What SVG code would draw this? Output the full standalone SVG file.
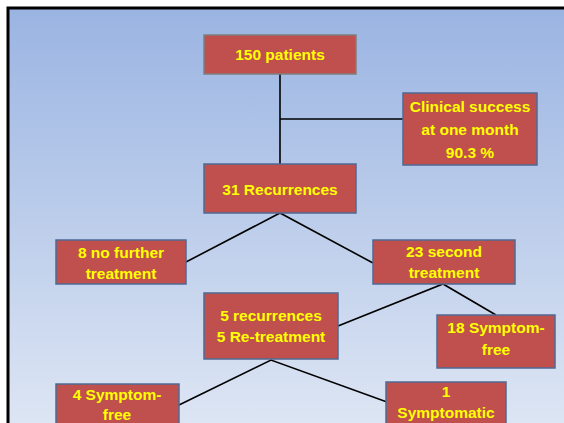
<svg xmlns="http://www.w3.org/2000/svg" width="564" height="423" viewBox="0 0 564 423">
<defs>
<linearGradient id="bg" x1="0" y1="0" x2="0" y2="1">
<stop offset="0" stop-color="#9ab4e2"/>
<stop offset="1" stop-color="#dfe7f4"/>
</linearGradient>
<style>
.n{fill:#c0504d;stroke:#4f6a94;stroke-width:1.5}
.g{stroke:#7f7f7f}
.t{font-family:"Liberation Sans",Arial,sans-serif;font-weight:bold;font-size:15.5px;fill:#ffff00;text-anchor:middle}
.c{stroke:#000;stroke-width:1.6;fill:none}
</style>
</defs>
<rect x="0" y="0" width="564" height="423" fill="#fff"/>
<rect x="8" y="8" width="570" height="430" fill="url(#bg)" stroke="#000" stroke-width="3"/>
<g id="connectors">
<line class="c" x1="280" y1="74" x2="280" y2="164"/>
<line class="c" x1="280" y1="119" x2="403" y2="119"/>
<polyline class="c" points="186,262 280,213 373,263"/>
<polyline class="c" points="338,326 443,284 496,315"/>
<polyline class="c" points="179,405 271,360 387,402"/>
</g>
<g id="n150">
<rect class="n g" x="204" y="35" width="152" height="39"/>
<text class="t" x="280" y="60">150 patients</text>
</g>
<g id="nclin">
<rect class="n" x="403" y="93" width="134" height="72"/>
<text class="t" x="470" y="112">Clinical success</text>
<text class="t" x="470" y="135">at one month</text>
<text class="t" x="470" y="158">90.3 %</text>
</g>
<g id="nrec">
<rect class="n" x="204" y="164" width="152" height="49"/>
<text class="t" x="280" y="195">31 Recurrences</text>
</g>
<g id="nno">
<rect class="n" x="56" y="240" width="130" height="44"/>
<text class="t" x="121" y="258">8 no further</text>
<text class="t" x="121" y="279">treatment</text>
</g>
<g id="nsec">
<rect class="n" x="373" y="240" width="142" height="44"/>
<text class="t" x="444" y="257">23 second</text>
<text class="t" x="444" y="278">treatment</text>
</g>
<g id="n5rec">
<rect class="n" x="204" y="293" width="134" height="66"/>
<text class="t" x="271" y="321">5 recurrences</text>
<text class="t" x="271" y="342">5 Re-treatment</text>
</g>
<g id="n18">
<rect class="n" x="437" y="315" width="118" height="53"/>
<text class="t" x="496" y="333">18 Symptom-</text>
<text class="t" x="496" y="355">free</text>
</g>
<g id="n4">
<rect class="n" x="56" y="384" width="123" height="50"/>
<text class="t" x="117" y="400">4 Symptom-</text>
<text class="t" x="117" y="420">free</text>
</g>
<g id="n1">
<rect class="n" x="386" y="382" width="120" height="50"/>
<text class="t" x="446" y="397">1</text>
<text class="t" x="446" y="418">Symptomatic</text>
</g>
</svg>
